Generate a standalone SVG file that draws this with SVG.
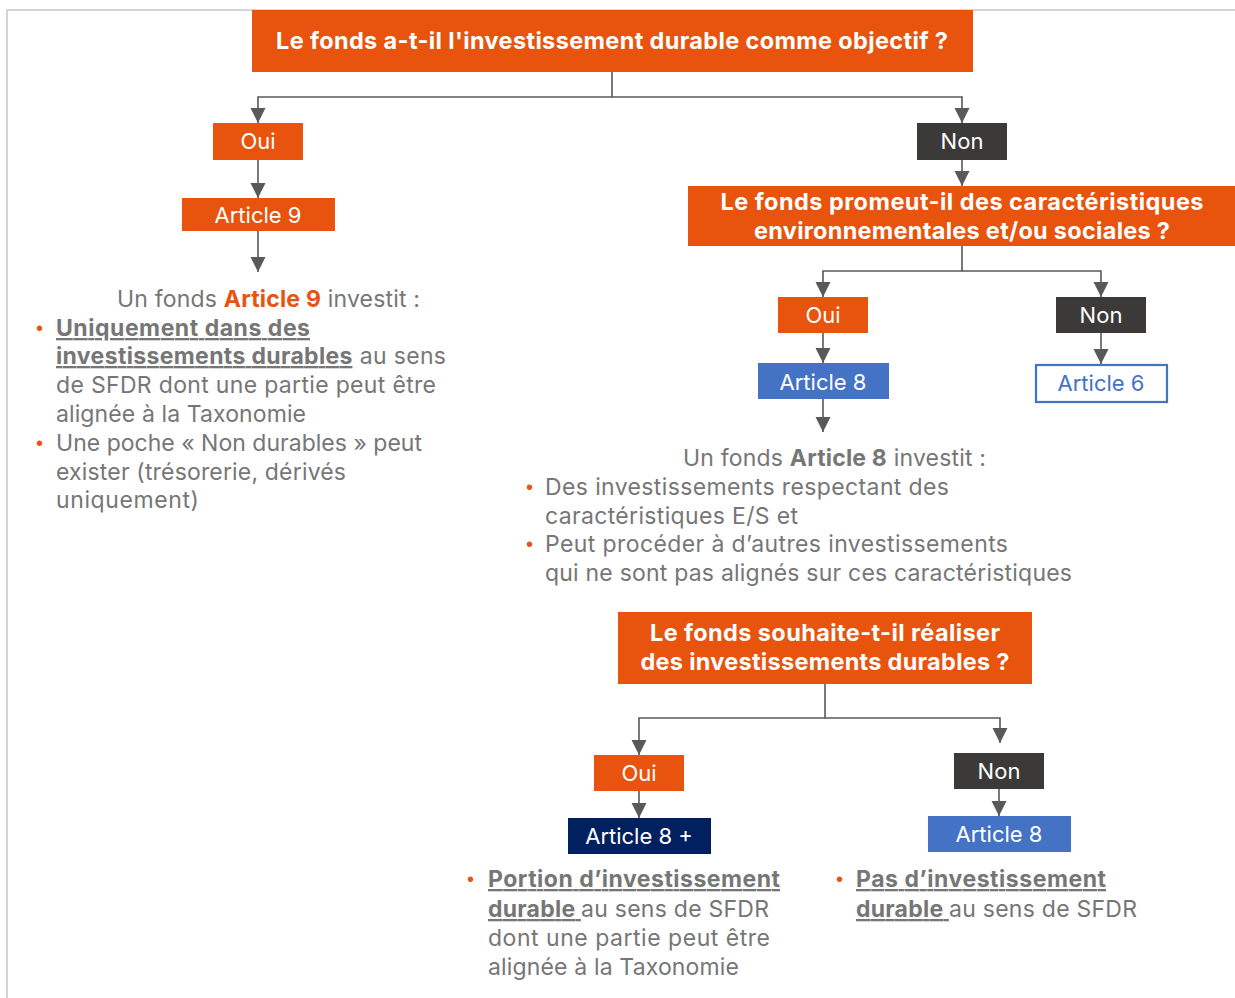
<svg xmlns="http://www.w3.org/2000/svg" width="1235" height="998" viewBox="0 0 1235 998">
<style>
.q{font-family:Inter,"Liberation Sans",sans-serif;font-weight:700;font-size:23.5px;fill:#fff;text-anchor:middle;}
.lb{font-family:Inter,"Liberation Sans",sans-serif;font-size:22px;fill:#fff;text-anchor:middle;}
.body{font-family:Inter,"Liberation Sans",sans-serif;font-size:23px;fill:#767676;}
.b{font-weight:700;}
.u{text-decoration:underline;}
.dot{font-family:"Liberation Sans",sans-serif;font-size:20px;fill:#E8530E;}
.or{fill:#E8530E;}
.dk{fill:#3B3A38;}
.bl{fill:#4472C4;}
.nv{fill:#002060;}
.c{fill:none;stroke:#595959;stroke-width:1.6;}
</style>
<defs>
<marker id="ah" markerUnits="userSpaceOnUse" markerWidth="16" markerHeight="16" refX="15" refY="7.5" orient="auto">
<path d="M0,0 L15,7.5 L0,15 z" fill="#595959"/>
</marker>
</defs>
<rect width="1235" height="998" fill="#fff"/>
<path d="M7,998 V10 H1235" fill="none" stroke="#C8C8C8" stroke-width="1.5"/>

<g id="connectors">
<path class="c" d="M612,72 V97 H258 V123" marker-end="url(#ah)"/>
<path class="c" d="M612,97 H962 V123" marker-end="url(#ah)"/>
<path class="c" d="M258,160 V198" marker-end="url(#ah)"/>
<path class="c" d="M258,231 V272" marker-end="url(#ah)"/>
<path class="c" d="M962,160 V186" marker-end="url(#ah)"/>
<path class="c" d="M962,246 V271 H823 V297" marker-end="url(#ah)"/>
<path class="c" d="M962,271 H1101 V297" marker-end="url(#ah)"/>
<path class="c" d="M823,333 V363" marker-end="url(#ah)"/>
<path class="c" d="M1101,333 V364" marker-end="url(#ah)"/>
<path class="c" d="M823,399 V432" marker-end="url(#ah)"/>
<path class="c" d="M825,684 V718 H639 V755" marker-end="url(#ah)"/>
<path class="c" d="M825,718 H1000 V743" marker-end="url(#ah)"/>
<path class="c" d="M639,791 V818" marker-end="url(#ah)"/>
<path class="c" d="M999,789 V816" marker-end="url(#ah)"/>
</g>

<g id="q1">
<rect class="or" x="252" y="10" width="721" height="62"/>
<text class="q" x="612" y="49" textLength="672">Le fonds a-t-il l'investissement durable comme objectif ?</text>
</g>
<g id="oui1">
<rect class="or" x="213" y="123" width="90" height="37"/>
<text class="lb" x="258" y="149">Oui</text>
</g>
<g id="art9">
<rect class="or" x="182" y="198" width="153" height="33"/>
<text class="lb" x="258" y="223">Article 9</text>
</g>
<g id="non1">
<rect class="dk" x="917" y="123" width="90" height="37"/>
<text class="lb" x="962" y="149">Non</text>
</g>
<g id="q2">
<rect class="or" x="688" y="186" width="547" height="60"/>
<text class="q" x="962" y="210" textLength="483">Le fonds promeut-il des caractéristiques</text>
<text class="q" x="962" y="239" textLength="416">environnementales et/ou sociales ?</text>
</g>
<g id="oui2">
<rect class="or" x="778" y="297" width="90" height="36"/>
<text class="lb" x="823" y="323">Oui</text>
</g>
<g id="non2">
<rect class="dk" x="1056" y="297" width="90" height="36"/>
<text class="lb" x="1101" y="323">Non</text>
</g>
<g id="art8a">
<rect class="bl" x="758" y="363" width="131" height="36"/>
<text class="lb" x="823" y="390">Article 8</text>
</g>
<g id="art6">
<rect x="1036" y="365" width="131" height="37" fill="#fff" stroke="#4472C4" stroke-width="2.2"/>
<text class="lb" x="1101" y="391" style="fill:#4472C4">Article 6</text>
</g>
<g id="q3">
<rect class="or" x="618" y="612" width="414" height="72"/>
<text class="q" x="825" y="641" textLength="350">Le fonds souhaite-t-il réaliser</text>
<text class="q" x="825" y="670" textLength="369">des investissements durables ?</text>
</g>
<g id="oui3">
<rect class="or" x="594" y="755" width="90" height="36"/>
<text class="lb" x="639" y="781">Oui</text>
</g>
<g id="art8plus">
<rect class="nv" x="568" y="818" width="143" height="36"/>
<text class="lb" x="639" y="844">Article 8 +</text>
</g>
<g id="non3">
<rect class="dk" x="954" y="753" width="90" height="36"/>
<text class="lb" x="999" y="779">Non</text>
</g>
<g id="art8b">
<rect class="bl" x="928" y="816" width="143" height="36"/>
<text class="lb" x="999" y="842">Article 8</text>
</g>

<g id="txt9">
<text class="body" x="117" y="307" textLength="303">Un fonds <tspan class="b" style="fill:#E8530E">Article 9</tspan> investit :</text>
<text class="dot" x="36" y="335">•</text>
<text class="body" x="56" y="336" textLength="254"><tspan class="b u">Uniquement dans des</tspan></text>
<text class="body" x="56" y="364" textLength="390"><tspan class="b u">investissements durables</tspan> au sens</text>
<text class="body" x="56" y="393" textLength="380">de SFDR dont une partie peut être</text>
<text class="body" x="56" y="422" textLength="250">alignée à la Taxonomie</text>
<text class="dot" x="36" y="450">•</text>
<text class="body" x="56" y="451" textLength="366">Une poche « Non durables » peut</text>
<text class="body" x="56" y="480" textLength="290">exister (trésorerie, dérivés</text>
<text class="body" x="56" y="508" textLength="143">uniquement)</text>
</g>
<g id="txt8">
<text class="body" x="683" y="466" textLength="303">Un fonds <tspan class="b">Article 8</tspan> investit :</text>
<text class="dot" x="526" y="494">•</text>
<text class="body" x="545" y="495" textLength="404">Des investissements respectant des</text>
<text class="body" x="545" y="524" textLength="253">caractéristiques E/S et</text>
<text class="dot" x="526" y="551">•</text>
<text class="body" x="545" y="552" textLength="463">Peut procéder à d’autres investissements</text>
<text class="body" x="545" y="581" textLength="527">qui ne sont pas alignés sur ces caractéristiques</text>
</g>
<g id="txt8plus">
<text class="dot" x="467" y="886">•</text>
<text class="body" x="488" y="887" textLength="292"><tspan class="b u">Portion d’investissement</tspan></text>
<text class="body" x="488" y="917" textLength="281"><tspan class="b u">durable </tspan>au sens de SFDR</text>
<text class="body" x="488" y="946" textLength="282">dont une partie peut être</text>
<text class="body" x="488" y="975" textLength="251">alignée à la Taxonomie</text>
</g>
<g id="txt8b">
<text class="dot" x="836" y="886">•</text>
<text class="body" x="856" y="887" textLength="250"><tspan class="b u">Pas d’investissement</tspan></text>
<text class="body" x="856" y="917" textLength="281"><tspan class="b u">durable </tspan>au sens de SFDR</text>
</g>
</svg>
